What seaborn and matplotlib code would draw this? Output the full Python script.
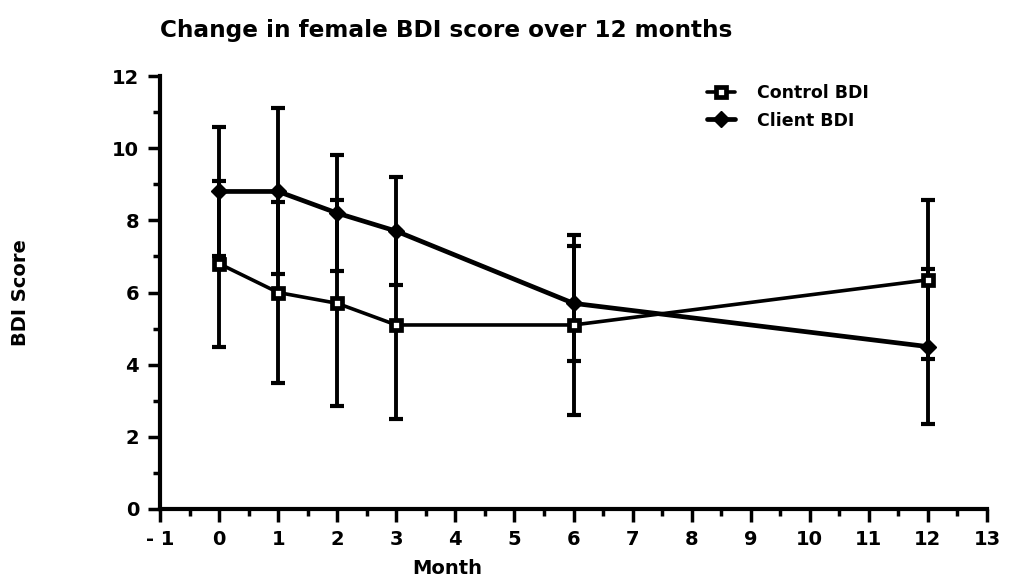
import numpy as np
import pandas as pd
import matplotlib
matplotlib.use("Agg")
import matplotlib.pyplot as plt
import seaborn as sns
from matplotlib.ticker import MultipleLocator, FixedLocator

# ---- data ----
months = [0, 1, 2, 3, 6, 12]
control_bdi = [6.8, 6.0, 5.7, 5.1, 5.1, 6.35]
control_err = [2.3, 2.5, 2.85, 2.6, 2.5, 2.2]
client_bdi = [8.8, 8.8, 8.2, 7.7, 5.7, 4.5]
client_err = [1.8, 2.3, 1.6, 1.5, 1.6, 2.15]
x_ticks = [-1, 0, 1, 2, 3, 4, 5, 6, 7, 8, 9, 10, 11, 12, 13]
x_tick_labels = ["- 1", "0", "1", "2", "3", "4", "5", "6", "7", "8", "9", "10", "11", "12", "13"]
y_ticks = [0, 2, 4, 6, 8, 10, 12]
title = "Change in female BDI score over 12 months"

sns.set_style("ticks")
plt.rcParams["font.family"] = ["DejaVu Sans"]
plt.rcParams["font.weight"] = "bold"
for k in ["text.color", "axes.labelcolor", "xtick.color", "ytick.color", "axes.edgecolor"]:
    plt.rcParams[k] = "black"

fig = plt.figure(figsize=(10.16, 5.83), dpi=100)
ax = fig.add_axes([160 / 1016, 1 - 509 / 583, 827 / 1016, 433 / 583])

df_control = pd.DataFrame({"Month": months, "BDI": control_bdi})
df_client = pd.DataFrame({"Month": months, "BDI": client_bdi})

# error bars
ax.errorbar(months, control_bdi, yerr=control_err, fmt="none", ecolor="black",
            elinewidth=2.8, capsize=5, capthick=3, zorder=2)
ax.errorbar(months, client_bdi, yerr=client_err, fmt="none", ecolor="black",
            elinewidth=2.8, capsize=5, capthick=3, zorder=2)

sns.lineplot(data=df_control, x="Month", y="BDI", ax=ax, color="black",
             linewidth=2.6, marker="s", markersize=7, markerfacecolor="white",
             markeredgecolor="black", markeredgewidth=3.4, label="Control BDI",
             zorder=4)
sns.lineplot(data=df_client, x="Month", y="BDI", ax=ax, color="black",
             linewidth=3.4, marker="D", markersize=8, markerfacecolor="black",
             markeredgecolor="black", markeredgewidth=1, label="Client BDI",
             zorder=3)

ax.set_xlim(-1, 13)
ax.set_ylim(0, 12)
ax.xaxis.set_major_locator(FixedLocator(x_ticks))
ax.set_xticklabels(x_tick_labels)
ax.xaxis.set_minor_locator(MultipleLocator(0.5))
ax.yaxis.set_major_locator(FixedLocator(y_ticks))
ax.yaxis.set_minor_locator(MultipleLocator(1))

for s in ["top", "right"]:
    ax.spines[s].set_visible(False)
for s in ["left", "bottom"]:
    ax.spines[s].set_linewidth(3)
    ax.spines[s].set_color("black")

ax.tick_params(axis="both", which="major", direction="out", length=9, width=2.5,
               labelsize=14, pad=6, colors="black")
ax.tick_params(axis="both", which="minor", direction="out", length=5, width=2.5,
               colors="black")
for lbl in ax.get_xticklabels() + ax.get_yticklabels():
    lbl.set_fontweight("bold")

ax.set_xlabel("Month", fontsize=14, fontweight="bold")
ax.set_ylabel("BDI Score", fontsize=14, fontweight="bold")
ax.xaxis.set_label_coords((447 - 160) / 827, (509 - 568) / 433)
ax.xaxis.label.set_verticalalignment("center")
ax.yaxis.set_label_coords((21 - 160) / 827, 0.5)
ax.yaxis.label.set_verticalalignment("center")

leg = ax.legend(loc="upper left", bbox_to_anchor=((707 - 160) / 827, (509 - 84) / 433),
                frameon=False, handlelength=1.6, handletextpad=1.3,
                labelspacing=0.55, borderpad=0, borderaxespad=0,
                prop={"weight": "bold", "size": 12.5})

fig.text(160 / 1016, 1 - 30 / 583, title, fontsize=16.7, fontweight="bold",
         ha="left", va="center")

fig.savefig("out.png", dpi=100)
